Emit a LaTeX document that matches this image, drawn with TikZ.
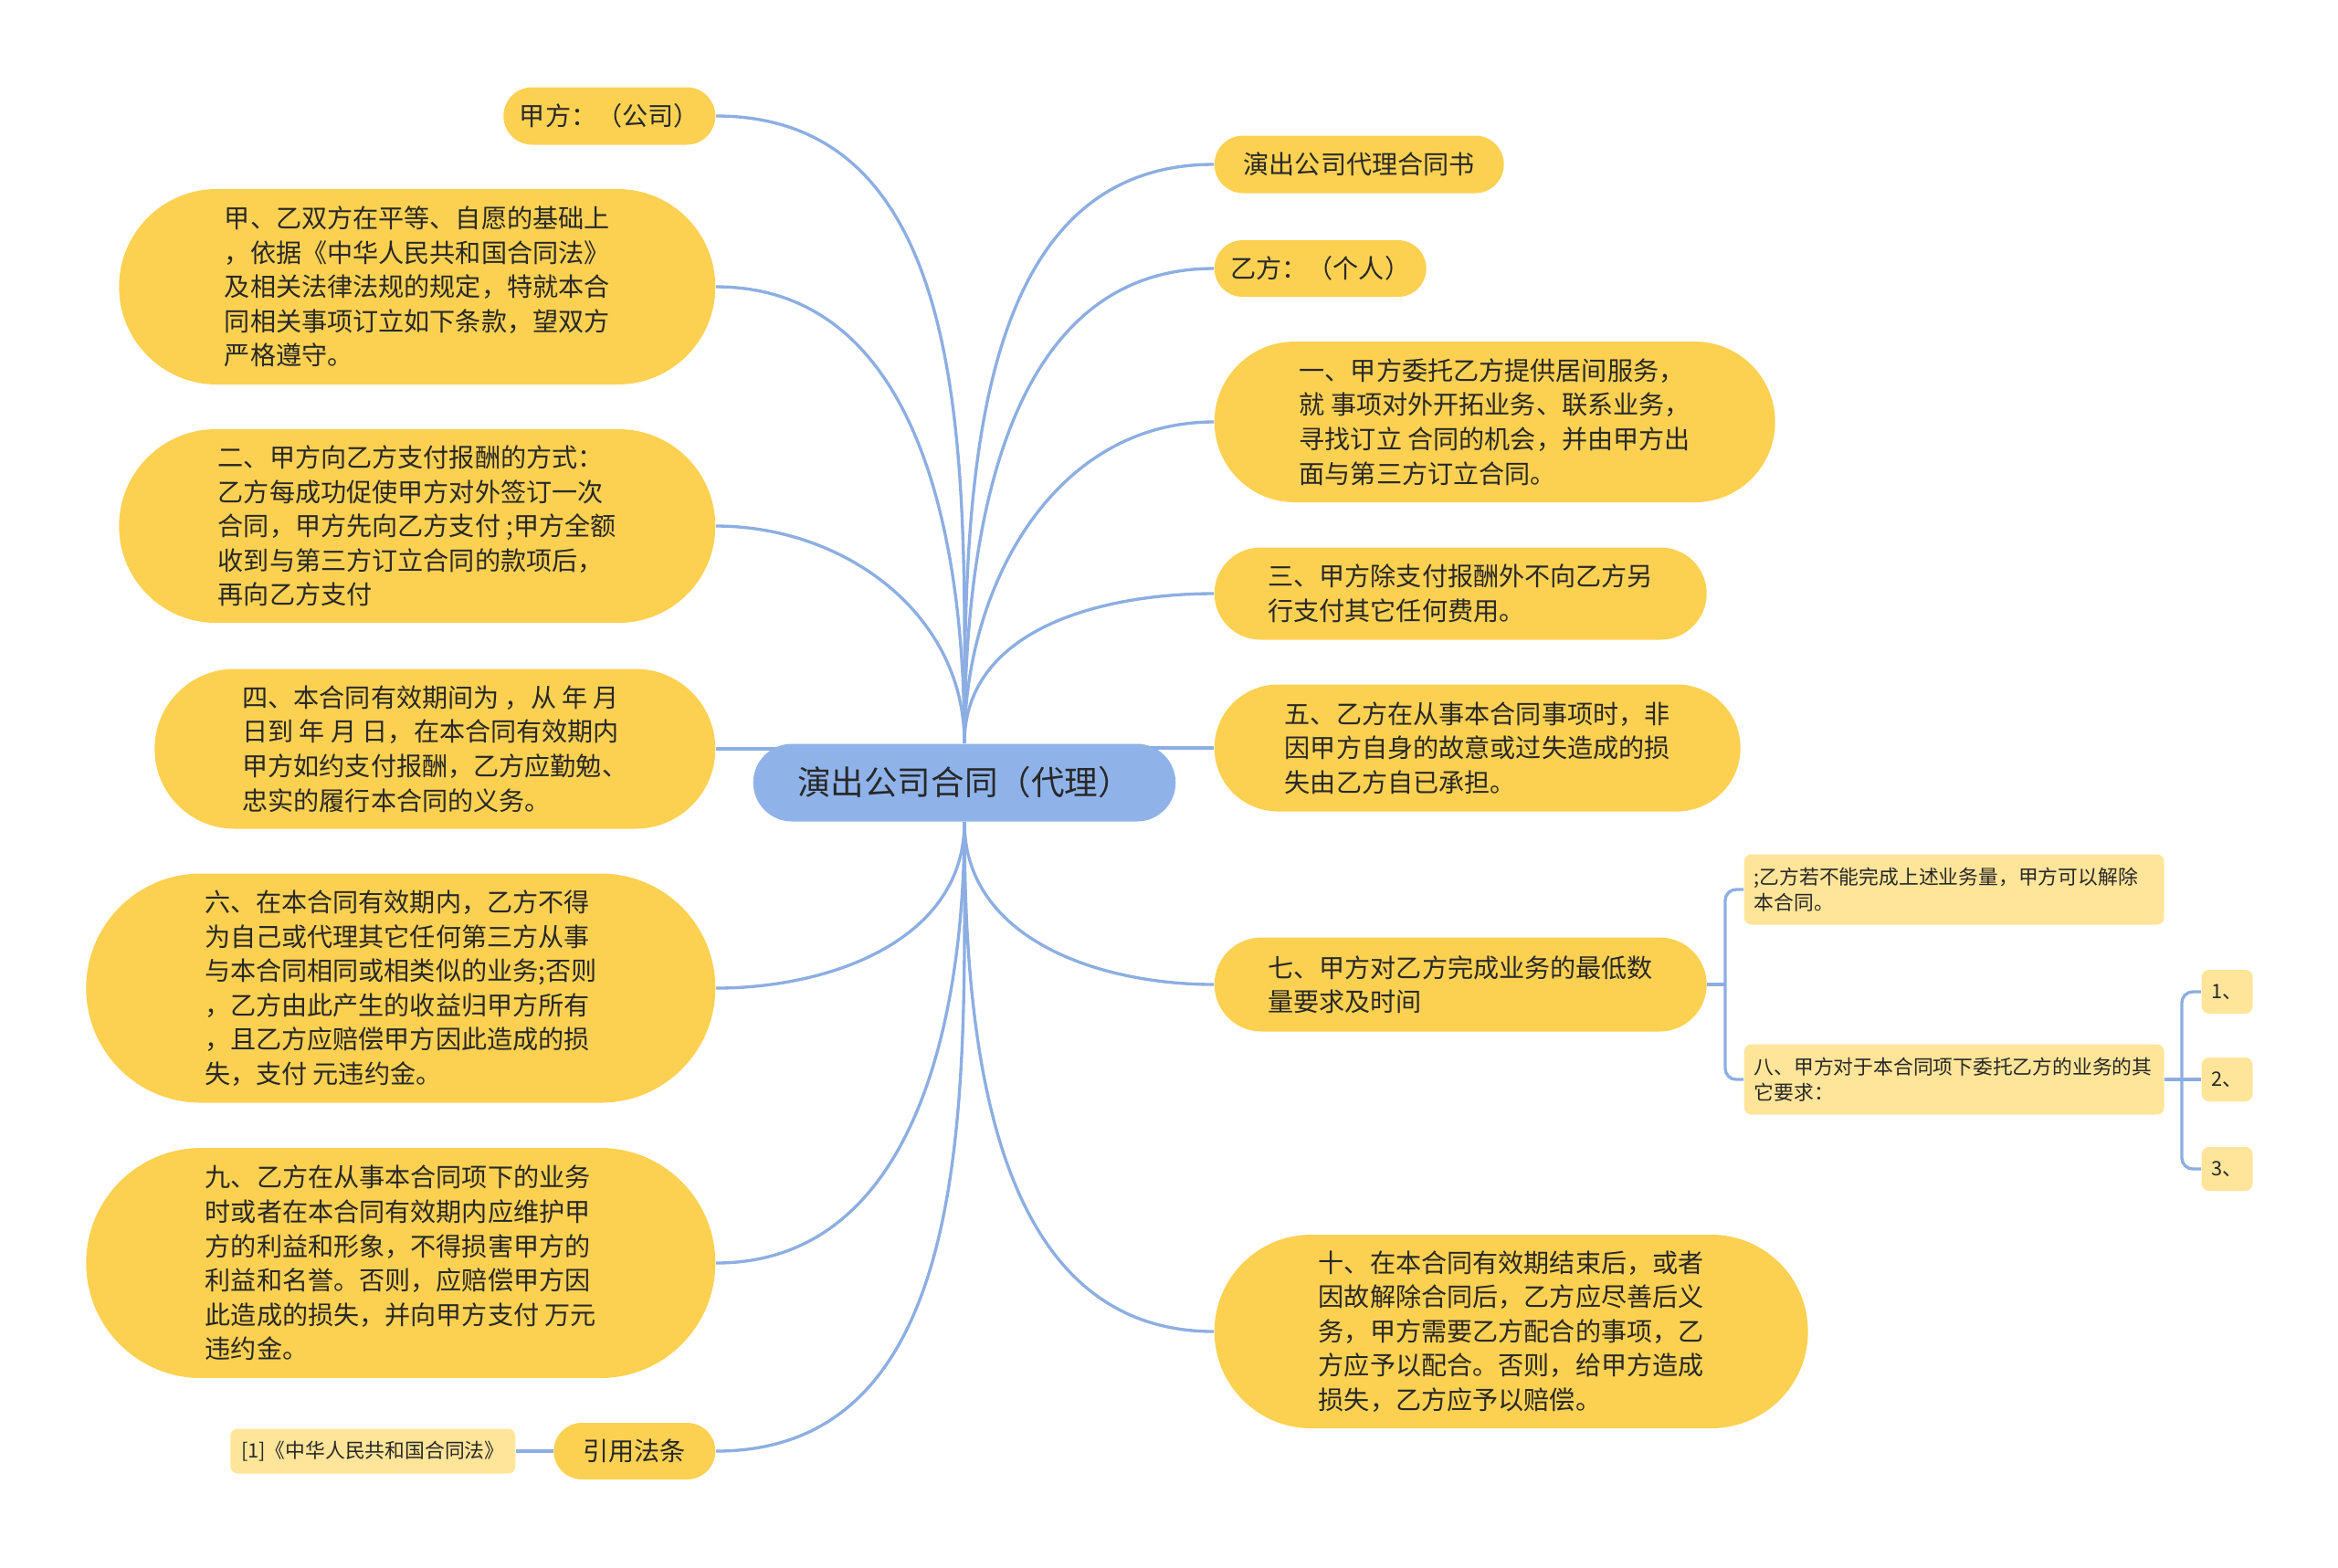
\documentclass[tikz,border=0pt]{standalone}
\usepackage{fontspec}
\setmainfont{Noto Sans CJK SC}
\usepackage{xcolor}
\usepackage{tikz}
\usetikzlibrary{shapes.misc,backgrounds}

\definecolor{topicyellow}{RGB}{252,209,82}
\definecolor{subyellow}{RGB}{255,229,153}
\definecolor{rootblue}{RGB}{143,179,233}
\definecolor{linkblue}{RGB}{140,174,226}
\definecolor{inktext}{RGB}{40,40,40}

\begin{document}
\begin{tikzpicture}[
  topic/.style={rounded rectangle, fill=topicyellow, text=inktext, align=left,
    inner xsep=0pt, inner ysep=0pt, font=\fontsize{8}{10.7}\selectfont},
  sub/.style={rectangle, rounded corners=0.08cm, fill=subyellow, text=inktext,
    align=left, inner xsep=0.11cm, inner ysep=0pt, font=\fontsize{6.2}{8}\selectfont},
  link/.style={draw=linkblue, line width=0.95pt}
]
\useasboundingbox (0,0) rectangle (25.6,-17.16);

% Central topic
\node[rounded rectangle, fill=rootblue, text=inktext, minimum width=4.86cm,
  minimum height=0.85cm, font=\fontsize{10.4}{12}\selectfont] (root) at (10.56,-8.57)
  {演出公司合同（代理）};

% Left branches
\node[topic, anchor=east, minimum width=2.32cm, minimum height=0.63cm] (jia) at (7.84,-1.27) {甲方：（公司）};
\node[topic, anchor=east, minimum width=6.53cm, minimum height=2.14cm] (intro) at (7.84,-3.14)
  {甲、乙双方在平等、自愿的基础上\\，依据《中华人民共和国合同法》\\及相关法律法规的规定，特就本合\\同相关事项订立如下条款，望双方\\严格遵守。};
\node[topic, anchor=east, minimum width=6.53cm, minimum height=2.12cm] (er) at (7.84,-5.76)
  {二、甲方向乙方支付报酬的方式：\\乙方每成功促使甲方对外签订一次\\合同，甲方先向乙方支付 ;甲方全额\\收到与第三方订立合同的款项后，\\再向乙方支付};
\node[topic, anchor=east, minimum width=6.14cm, minimum height=1.75cm] (si) at (7.84,-8.20)
  {四、本合同有效期间为 ，从 年 月\\日到 年 月 日，在本合同有效期内\\甲方如约支付报酬，乙方应勤勉、\\忠实的履行本合同的义务。};
\node[topic, anchor=east, minimum width=6.89cm, minimum height=2.51cm] (liu) at (7.84,-10.82)
  {六、在本合同有效期内，乙方不得\\为自己或代理其它任何第三方从事\\与本合同相同或相类似的业务;否则\\，乙方由此产生的收益归甲方所有\\，且乙方应赔偿甲方因此造成的损\\失，支付 元违约金。};
\node[topic, anchor=east, minimum width=6.89cm, minimum height=2.52cm] (jiu) at (7.84,-13.83)
  {九、乙方在从事本合同项下的业务\\时或者在本合同有效期内应维护甲\\方的利益和形象，不得损害甲方的\\利益和名誉。否则，应赔偿甲方因\\此造成的损失，并向甲方支付 万元\\违约金。};
\node[topic, anchor=east, minimum width=1.77cm, minimum height=0.62cm] (yin) at (7.84,-15.89) {引用法条};
\node[sub, anchor=east, minimum width=3.12cm, minimum height=0.49cm] (law) at (5.65,-15.89) {[1]《中华人民共和国合同法》};

% Right branches
\node[topic, anchor=west, minimum width=3.17cm, minimum height=0.63cm] (shu) at (13.29,-1.80) {演出公司代理合同书};
\node[topic, anchor=west, minimum width=2.32cm, minimum height=0.62cm] (yi) at (13.29,-2.94) {乙方：（个人）};
\node[topic, anchor=west, minimum width=6.14cm, minimum height=1.76cm] (yione) at (13.29,-4.62)
  {一、甲方委托乙方提供居间服务，\\就 事项对外开拓业务、联系业务，\\寻找订立 合同的机会，并由甲方出\\面与第三方订立合同。};
\node[topic, anchor=west, minimum width=5.39cm, minimum height=1.01cm] (san) at (13.29,-6.50)
  {三、甲方除支付报酬外不向乙方另\\行支付其它任何费用。};
\node[topic, anchor=west, minimum width=5.76cm, minimum height=1.39cm] (wu) at (13.29,-8.19)
  {五、乙方在从事本合同事项时，非\\因甲方自身的故意或过失造成的损\\失由乙方自已承担。};
\node[topic, anchor=west, minimum width=5.39cm, minimum height=1.03cm] (qi) at (13.29,-10.78)
  {七、甲方对乙方完成业务的最低数\\量要求及时间};
\node[topic, anchor=west, minimum width=6.50cm, minimum height=2.12cm] (shi) at (13.29,-14.58)
  {十、在本合同有效期结束后，或者\\因故解除合同后，乙方应尽善后义\\务，甲方需要乙方配合的事项，乙\\方应予以配合。否则，给甲方造成\\损失，乙方应予以赔偿。};

% Details of item 7
\node[sub, anchor=west, text width=4.38cm, minimum height=0.77cm] (qia) at (19.09,-9.74)
  {;乙方若不能完成上述业务量，甲方可以解除\\本合同。};
\node[sub, anchor=west, text width=4.38cm, minimum height=0.77cm] (qib) at (19.09,-11.82)
  {八、甲方对于本合同项下委托乙方的业务的其\\它要求：};
\node[sub, anchor=west, minimum width=0.54cm, minimum height=0.48cm] (ba1) at (24.10,-10.86) {1、};
\node[sub, anchor=west, minimum width=0.54cm, minimum height=0.48cm] (ba2) at (24.10,-11.82) {2、};
\node[sub, anchor=west, minimum width=0.54cm, minimum height=0.48cm] (ba3) at (24.10,-12.80) {3、};
\coordinate (qisplit) at (18.89,-10.78);
\coordinate (basplit) at (23.89,-11.82);

% Connectors
\begin{scope}[on background layer]
\draw[link] (root.north) to[out=90,in=0] (jia.east);
\draw[link] (root.north) to[out=90,in=0] (intro.east);
\draw[link] (root.north) to[out=90,in=0] (er.east);
\draw[link] (si.east) -- (si.east -| root.north);
\draw[link] (root.south) to[out=-90,in=0] (liu.east);
\draw[link] (root.south) to[out=-90,in=0] (jiu.east);
\draw[link] (root.south) to[out=-90,in=0] (yin.east);
\draw[link] (yin.west) -- (law.east);

\draw[link] (root.north) to[out=90,in=180] (shu.west);
\draw[link] (root.north) to[out=90,in=180] (yi.west);
\draw[link] (root.north) to[out=90,in=180] (yione.west);
\draw[link] (root.north) to[out=90,in=180] (san.west);
\draw[link] (wu.west) -- (wu.west -| root.north);
\draw[link] (root.south) to[out=-90,in=180] (qi.west);
\draw[link] (root.south) to[out=-90,in=180] (shi.west);

\draw[link] (qi.east) -- (qisplit);
\draw[link, rounded corners=0.12cm] (qia.west) -| (qisplit) |- (qib.west);
\draw[link] (qib.east) -- (basplit);
\draw[link, rounded corners=0.12cm] (ba1.west) -| (basplit) |- (ba3.west);
\draw[link] (basplit) -- (ba2.west);
\end{scope}
\end{tikzpicture}
\end{document}
